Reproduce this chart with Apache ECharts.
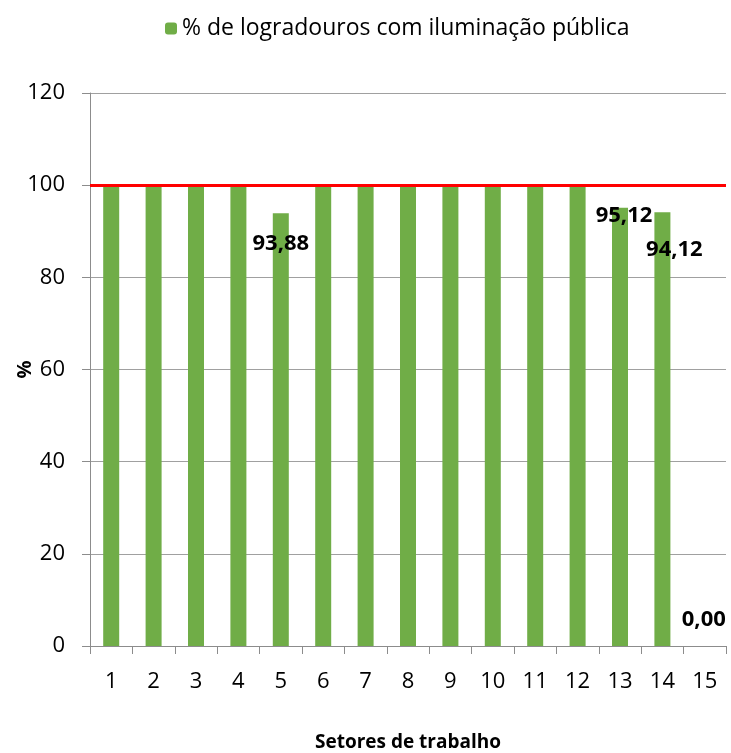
<!DOCTYPE html>
<html>
<head>
<meta charset="utf-8">
<script src="https://cdn.jsdelivr.net/npm/echarts@6/dist/echarts.min.js"></script>
<style>
  html, body { margin: 0; padding: 0; background: #fff; }
  #chart { width: 731px; height: 753px; }
</style>
</head>
<body>
<div id="chart"></div>
<script>
const setores = ['1', '2', '3', '4', '5', '6', '7', '8', '9', '10', '11', '12', '13', '14', '15']
const iluminacao = [100, 100, 100, 100, 93.88, 100, 100, 100, 100, 100, 100, 100, 95.12, 94.12, 0]
// only these sectors get a value label, with a nudge to mimic the original
const labelOffsets = { 4: [0, 46], 12: [4, 24], 13: [12, 53], 14: [-1, -10] }
const meta = 100

const font = "'Open Sans', 'Liberation Sans', sans-serif"
const chart = echarts.init(document.getElementById('chart'))

const option = {
  animation: false,
  textStyle: { fontFamily: font },
  legend: {
    top: 12,
    left: 160,
    itemWidth: 12,
    itemHeight: 12,
    itemGap: 6,
    textStyle: { fontSize: 23, color: '#000', fontFamily: font },
    data: ['% de logradouros com iluminação pública']
  },
  grid: { left: 90, right: 5, top: 93, bottom: 107, containLabel: false, outerBoundsMode: 'none' },
  xAxis: {
    type: 'category',
    data: setores,
    name: 'Setores de trabalho',
    nameLocation: 'middle',
    nameGap: 87,
    nameMoveOverlap: false,
    nameTextStyle: { fontSize: 19, fontWeight: 'bold', color: '#000' },
    axisLine: { lineStyle: { color: '#8c8c8c', width: 1 } },
    axisTick: { show: true, length: 8, lineStyle: { color: '#8c8c8c' } },
    axisLabel: { fontSize: 22, color: '#000', margin: 25 }
  },
  yAxis: {
    type: 'value',
    min: 0,
    max: 120,
    interval: 20,
    name: '%',
    nameLocation: 'middle',
    nameRotate: 90,
    nameGap: 55,
    nameMoveOverlap: false,
    nameTextStyle: { fontSize: 20, fontWeight: 'bold', color: '#000' },
    axisLine: { show: true, lineStyle: { color: '#8c8c8c', width: 1 } },
    axisTick: { show: true, length: 8, lineStyle: { color: '#8c8c8c' } },
    axisLabel: { fontSize: 22, color: '#000', margin: 25 },
    splitLine: { lineStyle: { color: '#a0a0a0', width: 1 } }
  },
  series: [{
    name: '% de logradouros com iluminação pública',
    type: 'bar',
    barWidth: 16,
    itemStyle: { color: '#70ad47' },
    data: iluminacao.map((v, i) => ({
      value: v,
      label: labelOffsets[i] ? {
        show: true,
        position: 'top',
        offset: labelOffsets[i],
        formatter: p => p.value.toFixed(2).replace('.', ','),
        fontSize: 22,
        fontWeight: 'bold',
        color: '#000'
      } : { show: false }
    })),
    markLine: {
      silent: true,
      symbol: 'none',
      label: { show: false },
      lineStyle: { color: '#ff0000', width: 3, type: 'solid' },
      data: [{ yAxis: meta }]
    }
  }]
}

chart.setOption(option)
</script>
</body>
</html>
